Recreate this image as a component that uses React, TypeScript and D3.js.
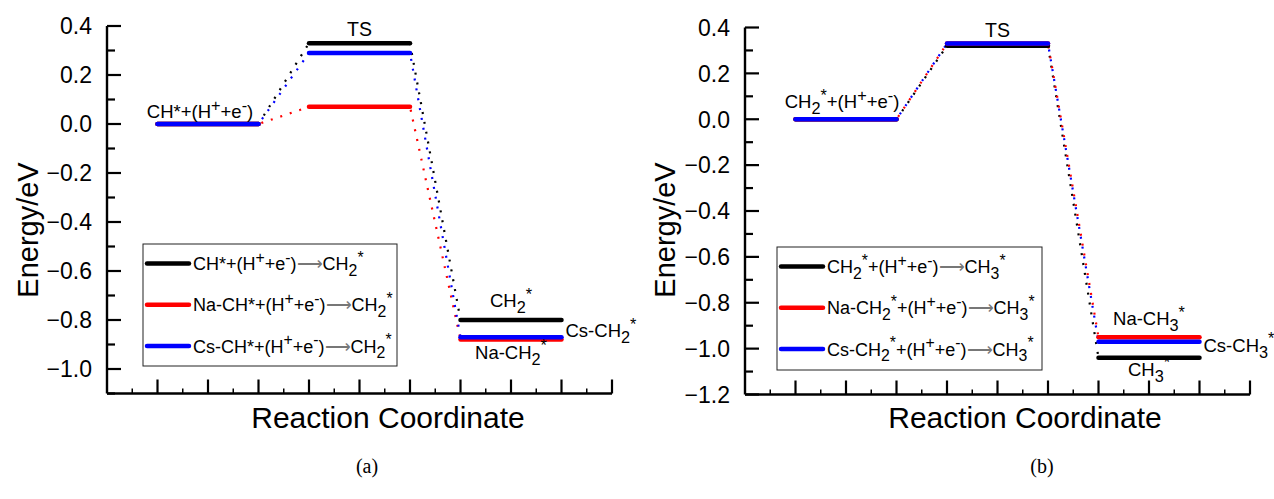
import React from 'react';
import * as d3 from 'd3';

// energy levels (eV) for the three stages: initial, TS, final
const stageCount = 3;

const levelsA_pure = [0, 0.33, -0.8];
const levelsA_na = [0, 0.07, -0.88];
const levelsA_cs = [0, 0.29, -0.87];

const levelsB_pure = [0, 0.32, -1.04];
const levelsB_na = [0, 0.33, -0.95];
const levelsB_cs = [0, 0.33, -0.97];

const yTicksA = [0.4, 0.2, 0.0, -0.2, -0.4, -0.6, -0.8, -1.0];
const yTicksB = [0.4, 0.2, 0.0, -0.2, -0.4, -0.6, -0.8, -1.0, -1.2];

const seriesColors = ['#000000', '#ff0000', '#0000ff'];

type Seg = [string, 'n' | 'sup' | 'sub' | 'arr'];

const legendA: Seg[][] = [
  [['CH*+(H', 'n'], ['+', 'sup'], ['+e', 'n'], ['-', 'sup'], [')', 'n'], ['\u27F6', 'arr'], ['CH', 'n'], ['2', 'sub'], ['*', 'sup']],
  [['Na-CH*+(H', 'n'], ['+', 'sup'], ['+e', 'n'], ['-', 'sup'], [')', 'n'], ['\u27F6', 'arr'], ['CH', 'n'], ['2', 'sub'], ['*', 'sup']],
  [['Cs-CH*+(H', 'n'], ['+', 'sup'], ['+e', 'n'], ['-', 'sup'], [')', 'n'], ['\u27F6', 'arr'], ['CH', 'n'], ['2', 'sub'], ['*', 'sup']],
];
const legendB: Seg[][] = [
  [['CH', 'n'], ['2', 'sub'], ['*', 'sup'], ['+(H', 'n'], ['+', 'sup'], ['+e', 'n'], ['-', 'sup'], [')', 'n'], ['\u27F6', 'arr'], ['CH', 'n'], ['3', 'sub'], ['*', 'sup']],
  [['Na-CH', 'n'], ['2', 'sub'], ['*', 'sup'], ['+(H', 'n'], ['+', 'sup'], ['+e', 'n'], ['-', 'sup'], [')', 'n'], ['\u27F6', 'arr'], ['CH', 'n'], ['3', 'sub'], ['*', 'sup']],
  [['Cs-CH', 'n'], ['2', 'sub'], ['*', 'sup'], ['+(H', 'n'], ['+', 'sup'], ['+e', 'n'], ['-', 'sup'], [')', 'n'], ['\u27F6', 'arr'], ['CH', 'n'], ['3', 'sub'], ['*', 'sup']],
];

const startLabelA: Seg[] = [['CH*+(H', 'n'], ['+', 'sup'], ['+e', 'n'], ['-', 'sup'], [')', 'n']];
const startLabelB: Seg[] = [['CH', 'n'], ['2', 'sub'], ['*', 'sup'], ['+(H', 'n'], ['+', 'sup'], ['+e', 'n'], ['-', 'sup'], [')', 'n']];
const endPureA: Seg[] = [['CH', 'n'], ['2', 'sub'], ['*', 'sup']];
const endNaA: Seg[] = [['Na-CH', 'n'], ['2', 'sub'], ['*', 'sup']];
const endCsA: Seg[] = [['Cs-CH', 'n'], ['2', 'sub'], ['*', 'sup']];
const endPureB: Seg[] = [['CH', 'n'], ['3', 'sub'], ['*', 'sup']];
const endNaB: Seg[] = [['Na-CH', 'n'], ['3', 'sub'], ['*', 'sup']];
const endCsB: Seg[] = [['Cs-CH', 'n'], ['3', 'sub'], ['*', 'sup']];

const FONT = '"Liberation Sans", Arial, sans-serif';

function Rich({ x, y, segs, size, anchor = 'start' }: any) {
  let cur = 0;
  const kids = segs.map(([t, k]: Seg, i: number) => {
    const target = k === 'sup' ? -size * 0.4 : k === 'sub' ? size * 0.32 : 0;
    const dy = target - cur;
    cur = target;
    const fs = k === 'sup' || k === 'sub' ? size * 0.88 : size;
    return (
      <tspan
        key={i}
        dy={dy}
        fontSize={fs}
        fill={k === 'arr' ? '#777' : '#000'}
        fontFamily={k === 'arr' ? '"DejaVu Sans", sans-serif' : undefined}
        fontWeight={k === 'arr' ? 200 : undefined}
      >
        {t}
      </tspan>
    );
  });
  return (
    <text x={x} y={y} fontSize={size} textAnchor={anchor} fontFamily={FONT}>
      {kids}
    </text>
  );
}

function Panel({ left, top, bottom, yMin, yTicks, series, legend, legendBox, labels, yLabelX, titleX, panelLabel, panelLabelX }: any) {
  const x = d3.scaleLinear().domain([0, 10]).range([left, left + 505]);
  const y = d3.scaleLinear().domain([yMin, 0.4]).range([bottom, top]);
  const minorY = d3.range(yMin, 0.4001, 0.1).filter((v) => !yTicks.some((t: number) => Math.abs(t - v) < 1e-6));
  const majorX = d3.range(1, 11);
  const minorX = d3.range(0.5, 10, 1);

  return (
    <g>
      {/* dotted connectors */}
      {series.map((lv: number[], si: number) =>
        d3.range(stageCount - 1).map((i) => (
          <line
            key={`c${si}-${i}`}
            x1={x(3 * i + 3)}
            y1={y(lv[i])}
            x2={x(3 * i + 4)}
            y2={y(lv[i + 1])}
            stroke={seriesColors[si]}
            strokeWidth={2.2}
            strokeDasharray="2,8"
            strokeDashoffset={-si * 3}
          />
        ))
      )}
      {/* energy levels */}
      {series.map((lv: number[], si: number) =>
        lv.map((v, i) => (
          <line
            key={`l${si}-${i}`}
            x1={x(3 * i + 1)}
            x2={x(3 * i + 3)}
            y1={y(v)}
            y2={y(v)}
            stroke={seriesColors[si]}
            strokeWidth={4.5}
            strokeLinecap="round"
          />
        ))
      )}
      {/* axes */}
      <line x1={left} x2={left} y1={top} y2={bottom} stroke="#000" strokeWidth={2.4} />
      <line x1={left} x2={x(10)} y1={bottom} y2={bottom} stroke="#000" strokeWidth={2.4} />
      {yTicks.map((t: number) => (
        <g key={`yt${t}`}>
          <line x1={left} x2={left + 14} y1={y(t)} y2={y(t)} stroke="#000" strokeWidth={2.2} />
          <text x={left - 15} y={y(t)} dy="0.36em" textAnchor="end" fontSize={23} fontFamily={FONT}>
            {d3.format('.1f')(t)}
          </text>
        </g>
      ))}
      {minorY.map((t: number) => (
        <line key={`ym${t}`} x1={left} x2={left + 8} y1={y(t)} y2={y(t)} stroke="#000" strokeWidth={2.2} />
      ))}
      {majorX.map((t: number) => (
        <line key={`xt${t}`} x1={x(t)} x2={x(t)} y1={bottom} y2={bottom - 14} stroke="#000" strokeWidth={2.2} />
      ))}
      {minorX.map((t: number) => (
        <line key={`xm${t}`} x1={x(t)} x2={x(t)} y1={bottom} y2={bottom - 5} stroke="#000" strokeWidth={1.5} />
      ))}
      <text
        transform={`translate(${yLabelX},230) rotate(-90)`}
        textAnchor="middle"
        fontSize={29}
        fontFamily={FONT}
      >
        Energy/eV
      </text>
      <text x={titleX} y={428} textAnchor="middle" fontSize={30} fontFamily={FONT}>
        Reaction Coordinate
      </text>
      {/* legend */}
      <rect x={legendBox[0]} y={legendBox[1]} width={legendBox[2]} height={legendBox[3]} fill="#fff" stroke="#222" strokeWidth={1} />
      {legend.map((segs: Seg[], i: number) => {
        const ry = legendBox[1] + 19.5 + i * 41.3;
        return (
          <g key={`lg${i}`}>
            <line x1={legendBox[0] + 4} x2={legendBox[0] + 46} y1={ry} y2={ry} stroke={seriesColors[i]} strokeWidth={4.5} strokeLinecap="round" />
            <Rich x={legendBox[0] + 50} y={ry + 6.5} segs={segs} size={18} />
          </g>
        );
      })}
      {/* level labels */}
      <Rich x={x(2) + labels.start[0]} y={y(0) + labels.start[1]} segs={labels.startSegs} size={18.5} anchor="middle" />
      <text x={x(5)} y={y(Math.max(...series.map((s: number[]) => s[1]))) - 7} textAnchor="middle" fontSize={19.5} fontFamily={FONT}>
        TS
      </text>
      {labels.ends.map((e: any, i: number) => (
        <Rich key={`el${i}`} x={e.right ? x(9) + 4 : x(8)} y={y(series[e.s][2]) + e.dy} segs={e.segs} size={18.5} anchor={e.right ? 'start' : 'middle'} />
      ))}
      <text x={panelLabelX} y={473} textAnchor="middle" fontSize={20} fontFamily='"Liberation Serif", "Times New Roman", serif'>
        {panelLabel}
      </text>
    </g>
  );
}

export default function App() {
  return (
    <svg width={1274} height={499} style={{ position: 'absolute', left: 0, top: 0, background: '#fff' }}>
      <Panel
        left={107}
        top={26}
        bottom={393.5}
        yMin={-1.1}
        yTicks={yTicksA}
        series={[levelsA_pure, levelsA_na, levelsA_cs]}
        legend={legendA}
        legendBox={[143, 244, 254, 122]}
        labels={{
          start: [-8, -6],
          startSegs: startLabelA,
          ends: [
            { s: 0, dy: -13, segs: endPureA },
            { s: 2, dy: 0, segs: endCsA, right: true },
            { s: 1, dy: 19, segs: endNaA },
          ],
        }}
        yLabelX={38}
        titleX={388}
        panelLabel="(a)"
        panelLabelX={367}
      />
      <Panel
        left={745}
        top={27.5}
        bottom={394.5}
        yMin={-1.2}
        yTicks={yTicksB}
        series={[levelsB_pure, levelsB_na, levelsB_cs]}
        legend={legendB}
        legendBox={[777, 247, 265, 123]}
        labels={{
          start: [-4, -11],
          startSegs: startLabelB,
          ends: [
            { s: 1, dy: -12, segs: endNaB },
            { s: 2, dy: 10, segs: endCsB, right: true },
            { s: 0, dy: 18, segs: endPureB },
          ],
        }}
        yLabelX={675}
        titleX={1025}
        panelLabel="(b)"
        panelLabelX={1042}
      />
    </svg>
  );
}
